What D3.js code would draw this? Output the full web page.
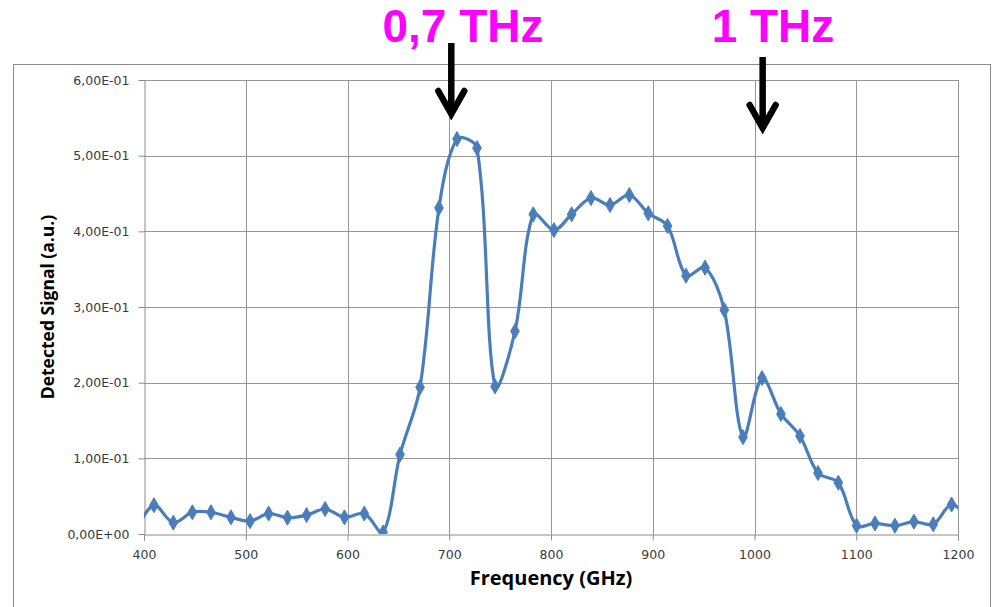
<!DOCTYPE html>
<html>
<head>
<meta charset="utf-8">
<script src="https://cdn.jsdelivr.net/npm/d3@7"></script>
<style>
  html, body { margin: 0; padding: 0; background: #fff; }
  svg { display: block; }
</style>
</head>
<body>
<svg id="chart" width="992" height="607"></svg>
<script>
// Measured spectrum: frequency (GHz) and detected signal (a.u.)
const frequency = [391, 409.8, 428.8, 447.5, 465.8, 485.5, 504.2, 522.5, 541, 559.8, 578, 597, 616.5, 635,
  651.6, 671.3, 689.9, 707.6, 727.3, 745, 764.6, 782.6, 802.9, 820.3, 839.3, 858, 877, 895.6, 914.6,
  932.7, 951.4, 970.3, 988.7, 1007.4, 1026, 1044.7, 1062.4, 1082.4, 1100.3, 1118.4, 1138, 1156.7,
  1175.7, 1193.7, 1212];
const signal = [0.004, 0.038, 0.015, 0.0287, 0.0287, 0.022, 0.017, 0.027, 0.0216, 0.025, 0.033, 0.022, 0.027, 0.002,
  0.105, 0.194, 0.431, 0.522, 0.510, 0.195, 0.268, 0.4225, 0.4017, 0.4225, 0.444, 0.4348, 0.448, 0.4238, 0.407,
  0.3414, 0.352, 0.296, 0.128, 0.206, 0.1586, 0.1295, 0.0806, 0.0678, 0.011, 0.014, 0.011, 0.0163,
  0.0128, 0.039, 0.018];

const xTicks = [400, 500, 600, 700, 800, 900, 1000, 1100, 1200];
const yTicks = [0, 0.1, 0.2, 0.3, 0.4, 0.5, 0.6];
const yTickLabels = ["0,00E+00", "1,00E-01", "2,00E-01", "3,00E-01", "4,00E-01", "5,00E-01", "6,00E-01"];

const annotationLabels = ["0,7 THz", "1 THz"];
const annotationFreqs = [702, 1008];

const points = frequency.map((f, i) => ({ f, v: signal[i] }));

// Smoothed-line curve: cubic Bezier segments whose handles follow the
// neighbouring chord and are weighted by the relative segment lengths,
// which keeps short segments from overshooting.
function SmoothCurve(context) { this._context = context; }
SmoothCurve.prototype = {
  areaStart() { this._line = 0; },
  areaEnd() { this._line = NaN; },
  lineStart() { this._pts = []; },
  point(px, py) { this._pts.push([+px, +py]); },
  lineEnd() {
    const p = this._pts, c = this._context, n = p.length;
    if (!n) return;
    const dist = (a, b) => Math.hypot(b[0] - a[0], b[1] - a[1]);
    c.moveTo(p[0][0], p[0][1]);
    for (let i = 0; i < n - 1; i++) {
      const P0 = p[i - 1] || p[i], P1 = p[i], P2 = p[i + 1], P3 = p[i + 2] || p[i + 1];
      const d01 = dist(P0, P1), d12 = dist(P1, P2), d23 = dist(P2, P3);
      const a1 = d01 + d12 > 0 ? d12 / (d01 + d12) / 3 : 0;
      const a2 = d12 + d23 > 0 ? d12 / (d12 + d23) / 3 : 0;
      c.bezierCurveTo(
        P1[0] + (P2[0] - P0[0]) * a1, P1[1] + (P2[1] - P0[1]) * a1,
        P2[0] - (P3[0] - P1[0]) * a2, P2[1] - (P3[1] - P1[1]) * a2,
        P2[0], P2[1]);
    }
  }
};
const curveSmooth = context => new SmoothCurve(context);

const svg = d3.select("#chart");
const plot = { left: 144, right: 958, top: 80, bottom: 534 };

const x = d3.scaleLinear().domain([400, 1200]).range([plot.left, plot.right]);
const y = d3.scaleLinear().domain([0, 0.6]).range([plot.bottom, plot.top]);

// Outer chart frame
svg.append("rect")
  .attr("x", 13.5).attr("y", 64.5)
  .attr("width", 977).attr("height", 560)
  .attr("fill", "none").attr("stroke", "#8c8c8c").attr("stroke-width", 1);

// Gridlines
const grid = svg.append("g");
grid.selectAll("line.h").data(yTicks.slice(1)).join("line")
  .attr("x1", plot.left).attr("x2", plot.right)
  .attr("y1", d => Math.round(y(d)) + 0.5).attr("y2", d => Math.round(y(d)) + 0.5)
  .attr("stroke", "#969696").attr("stroke-width", 1);
grid.selectAll("line.v").data(xTicks.slice(1)).join("line")
  .attr("y1", plot.top).attr("y2", plot.bottom)
  .attr("x1", d => Math.round(x(d)) + 0.5).attr("x2", d => Math.round(x(d)) + 0.5)
  .attr("stroke", "#969696").attr("stroke-width", 1);

// Axes
const yAxis = d3.axisLeft(y).tickValues(yTicks)
  .tickFormat((d, i) => yTickLabels[i]).tickSize(6).tickPadding(9);
const xAxis = d3.axisBottom(x).tickValues(xTicks)
  .tickFormat(d3.format("d")).tickSize(6).tickPadding(8);

const gy = svg.append("g").attr("transform", `translate(${plot.left + 0.5},0)`).call(yAxis);
const gx = svg.append("g").attr("transform", `translate(0,${plot.bottom + 0.5})`).call(xAxis);
[gx, gy].forEach(g => {
  g.select(".domain").attr("stroke", "#8c8c8c");
  g.selectAll(".tick line").attr("stroke", "#8c8c8c");
  g.selectAll("text")
    .attr("font-family", "'DejaVu Sans', Verdana, sans-serif")
    .attr("font-size", 12.5).attr("fill", "#3a3a3a");
});
gx.selectAll("text").attr("dy", "0.85em");

// Axis titles
svg.append("text")
  .attr("transform", `translate(54,${(plot.top + plot.bottom) / 2}) rotate(-90)`)
  .attr("text-anchor", "middle")
  .attr("font-family", "'Open Sans', 'Liberation Sans', sans-serif")
  .attr("font-weight", "bold").attr("font-size", 17.5)
  .text("Detected Signal (a.u.)");
svg.append("text")
  .attr("x", 551).attr("y", 585)
  .attr("text-anchor", "middle")
  .attr("font-family", "'Open Sans', 'Liberation Sans', sans-serif")
  .attr("font-weight", "bold").attr("font-size", 20)
  .text("Frequency (GHz)");

// Data series, clipped to the plot area
svg.append("clipPath").attr("id", "plotClip")
  .append("rect")
  .attr("x", plot.left).attr("y", plot.top - 10)
  .attr("width", plot.right - plot.left).attr("height", plot.bottom - plot.top + 10);

const series = svg.append("g").attr("clip-path", "url(#plotClip)");
const line = d3.line().x(d => x(d.f)).y(d => y(d.v)).curve(curveSmooth);
series.append("path")
  .datum(points)
  .attr("d", line)
  .attr("fill", "none")
  .attr("stroke", "#4a7ebb")
  .attr("stroke-width", 3.2)
  .attr("stroke-linejoin", "round");

const diamond = d3.symbol().type(d3.symbolDiamond).size(65);
series.selectAll("path.marker").data(points).join("path")
  .attr("class", "marker")
  .attr("transform", d => `translate(${x(d.f)},${y(d.v)})`)
  .attr("d", diamond)
  .attr("fill", "#4a7ebb")
  .attr("stroke", "#4a7ebb").attr("stroke-width", 1);

// Frequency annotations with arrows
const ann = svg.append("g");
const annLabelX = [463, 773];
const arrowTop = [43, 57];
const arrowTip = [114, 128];
annotationLabels.forEach((label, i) => {
  ann.append("text")
    .attr("x", annLabelX[i]).attr("y", 42)
    .attr("text-anchor", "middle")
    .attr("font-family", "'Liberation Sans', Arial, sans-serif")
    .attr("font-weight", "bold").attr("font-size", 46)
    .attr("fill", "#ff00ff")
    .text(label);
  const ax = x(annotationFreqs[i]);
  ann.append("line")
    .attr("x1", ax).attr("x2", ax)
    .attr("y1", arrowTop[i]).attr("y2", arrowTip[i] - 3)
    .attr("stroke", "#000").attr("stroke-width", 6.5);
  ann.append("path")
    .attr("d", `M${ax - 13},${arrowTip[i] - 23} L${ax},${arrowTip[i]} L${ax + 13},${arrowTip[i] - 23}`)
    .attr("fill", "none").attr("stroke", "#000")
    .attr("stroke-width", 6.5).attr("stroke-linecap", "round").attr("stroke-linejoin", "miter");
});
</script>
</body>
</html>
